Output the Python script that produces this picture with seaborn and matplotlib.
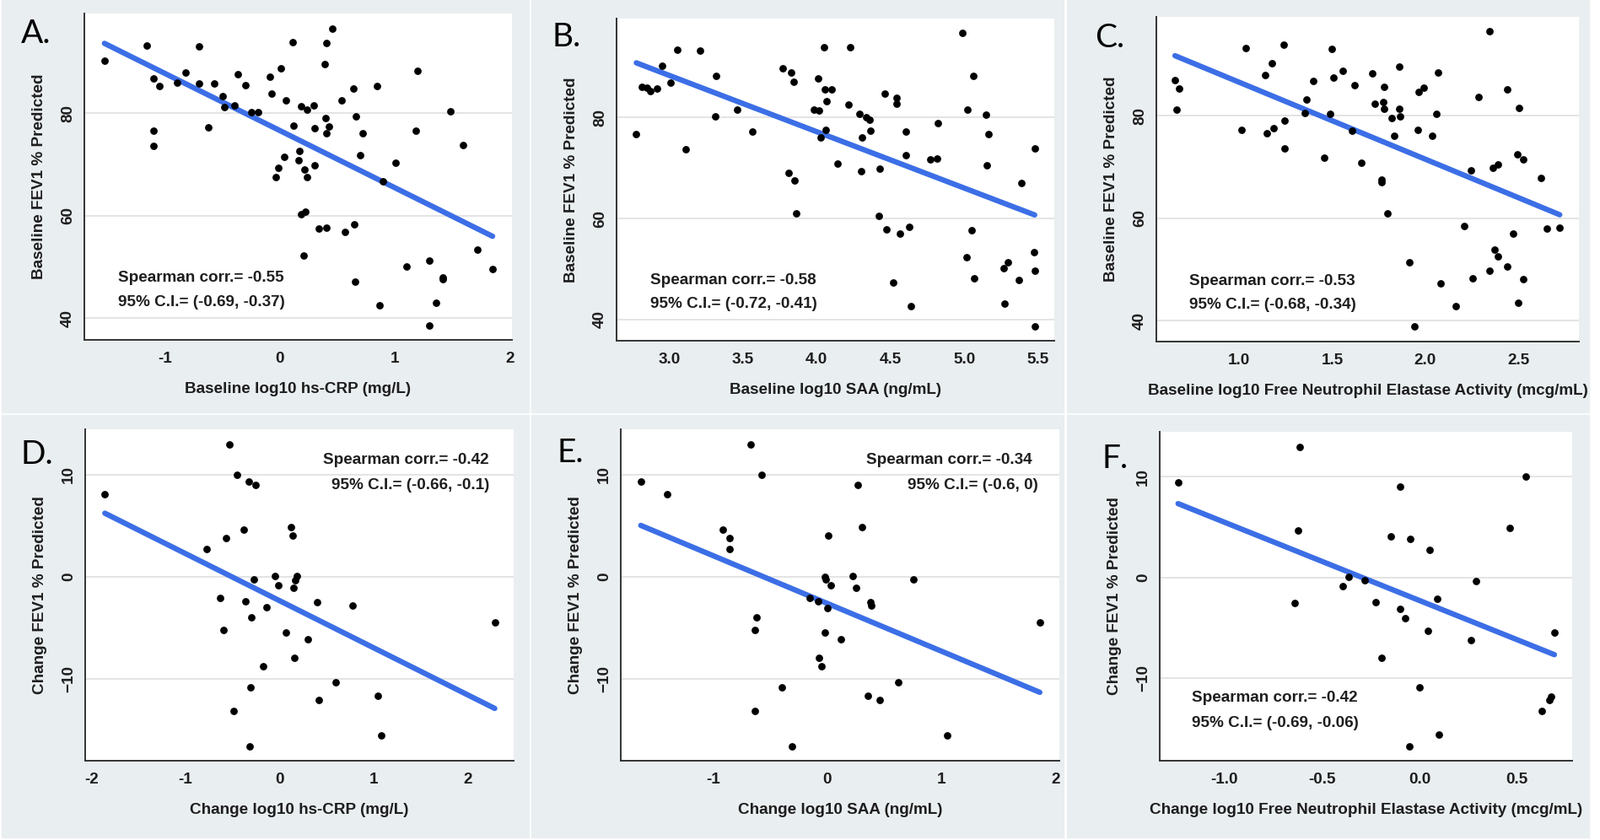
import matplotlib
matplotlib.use("Agg")
import matplotlib.pyplot as plt
import seaborn as sns
from matplotlib.patches import Rectangle
from matplotlib.ticker import FormatStrFormatter

# A: baseline hs-CRP vs baseline FEV1
a_x = [-1.525, -1.158, -0.702, -1.099, -1.048, -0.891, -0.823, -0.702, -0.572, -0.495,
       -0.483, -0.397, -0.367, -0.302, -0.249, -0.190, -0.619, -1.099, -1.099, -0.083,
       -0.071, 0.012, 0.110, 0.053, 0.184, 0.237, 0.293, 0.118, 0.302, 0.403,
       0.456, 0.394, 0.400, 0.403, 0.426, 0.536, 0.637, 0.663, 0.720, 0.847,
       1.196, 1.184, 1.481, 1.593, 0.172, 0.160, 0.038, -0.012, -0.036, 0.216,
       0.240, 0.302, 0.702, 1.004, 0.900, 0.187, 0.222, 0.341, 0.403, 0.569,
       0.649, 0.207, 0.652, 0.868, 1.105, 1.303, 1.415, 1.420, 1.362, 1.300,
       1.717, 1.851]
a_y = [90.3, 93.3, 93.1, 86.9, 85.4, 86.0, 88.0, 85.8, 85.8, 83.3,
       81.2, 81.5, 87.6, 85.5, 80.2, 80.3, 77.3, 76.6, 73.6, 87.1,
       83.9, 88.8, 93.9, 82.6, 81.4, 80.8, 81.6, 77.6, 77.1, 93.8,
       96.5, 89.7, 79.1, 76.1, 77.4, 82.6, 84.8, 79.5, 76.1, 85.4,
       88.3, 76.7, 80.4, 73.8, 72.6, 70.8, 71.6, 69.3, 67.5, 69.0,
       67.5, 69.8, 71.8, 70.4, 66.8, 60.4, 60.9, 57.6, 57.7, 56.9,
       58.4, 52.3, 47.2, 42.6, 50.2, 51.2, 48.0, 47.7, 43.0, 38.6,
       53.4, 49.7]

# B: baseline SAA vs baseline FEV1
b_x = [2.777, 2.813, 2.846, 2.873, 2.919, 2.952, 3.009, 3.053, 3.111, 3.207,
       3.313, 3.320, 3.461, 3.565, 3.772, 3.829, 3.843, 3.811, 3.850, 3.859,
       3.982, 4.014, 4.012, 4.048, 4.053, 4.101, 4.067, 4.060, 4.025, 4.140,
       4.226, 4.214, 4.288, 4.304, 4.334, 4.359, 4.364, 4.302, 4.426, 4.461,
       4.419, 4.470, 4.539, 4.539, 4.565, 4.606, 4.606, 4.627, 4.516, 4.641,
       4.770, 4.813, 4.823, 4.988, 5.060, 5.021, 5.147, 5.166, 5.154, 5.048,
       5.014, 5.067, 5.265, 5.297, 5.371, 5.274, 5.387, 5.477, 5.472, 5.477,
       5.477]
b_y = [76.7, 86.1, 85.9, 85.3, 85.8, 90.3, 86.9, 93.4, 73.7, 93.2,
       80.3, 88.2, 81.6, 77.3, 89.7, 88.9, 87.1, 69.1, 67.6, 61.0,
       81.6, 81.4, 87.7, 93.9, 85.5, 85.6, 83.3, 77.6, 76.1, 70.9,
       93.9, 82.6, 80.8, 76.1, 80.1, 79.6, 77.4, 69.4, 69.9, 84.8,
       60.5, 57.8, 83.9, 82.7, 57.0, 77.2, 72.6, 58.4, 47.3, 42.7,
       71.7, 71.9, 78.9, 96.7, 88.3, 81.6, 80.5, 76.7, 70.6, 57.6,
       52.3, 48.2, 50.2, 51.3, 47.8, 43.1, 67.0, 73.9, 53.4, 49.7,
       38.7]

# C: baseline free neutrophil elastase vs baseline FEV1
c_x = [0.656, 0.678, 0.663, 1.013, 1.037, 1.139, 1.174, 1.150, 1.187, 1.238,
       1.243, 1.245, 1.351, 1.362, 1.399, 1.455, 1.488, 1.496, 1.507, 1.556,
       1.604, 1.622, 1.655, 1.713, 1.728, 1.774, 1.777, 1.779, 1.765, 1.765,
       1.796, 1.819, 1.832, 1.860, 1.865, 1.862, 1.915, 1.942, 1.958, 1.966,
       1.991, 2.037, 2.057, 2.070, 2.083, 2.165, 2.207, 2.246, 2.253, 2.284,
       2.344, 2.344, 2.363, 2.390, 2.370, 2.390, 2.438, 2.438, 2.473, 2.494,
       2.527, 2.504, 2.496, 2.526, 2.621, 2.654, 2.721]
c_y = [87.0, 85.3, 81.2, 77.3, 93.2, 87.9, 90.2, 76.6, 77.5, 93.8,
       79.0, 73.6, 80.5, 83.1, 86.8, 71.8, 80.3, 93.0, 87.5, 88.7,
       77.0, 85.9, 70.8, 88.2, 82.4, 82.6, 85.6, 81.4, 67.5, 67.0,
       60.9, 79.5, 76.0, 81.3, 79.8, 89.6, 51.3, 38.8, 77.3, 84.6,
       85.5, 76.0, 80.4, 88.4, 47.3, 42.8, 58.5, 69.3, 48.2, 83.7,
       96.5, 49.7, 69.8, 70.5, 53.8, 52.6, 85.2, 50.5, 57.0, 72.5,
       71.5, 81.5, 43.4, 48.1, 67.9, 57.9, 58.1]

# D: change hs-CRP vs change FEV1
d_x = [-1.856, -0.531, -0.451, -0.329, -0.253, -0.383, -0.567, -0.776, 0.126, 0.144,
       -0.274, -0.051, -0.011, 0.184, 0.170, 0.152, -0.628, -0.361, -0.137, -0.296,
       0.404, 0.776, -0.592, 0.069, 0.300, 0.162, -0.170, -0.307, 0.599, 0.422,
       1.043, -0.487, 1.079, -0.318, 2.289]
d_y = [8.10, 12.98, 10.03, 9.34, 9.04, 4.66, 3.83, 2.73, 4.90, 4.08,
       -0.25, 0.08, -0.80, 0.03, -0.36, -1.10, -2.04, -2.42, -3.03, -3.97,
       -2.48, -2.84, -5.26, -5.43, -6.14, -7.99, -8.79, -10.85, -10.39, -12.12,
       -11.71, -13.14, -15.54, -16.67, -4.44]

# E: change SAA vs change FEV1
e_x = [-1.631, -1.402, -0.668, -0.576, -0.912, -0.852, -0.855, 0.012, 0.303, 0.264,
       -0.024, -0.012, 0.030, 0.226, 0.252, 0.757, -0.154, -0.080, 0.003, 0.374,
       0.386, -0.618, -0.633, -0.024, 0.119, -0.071, -0.048, -0.395, 0.621, 0.353,
       0.457, -0.636, 1.048, -0.306, 1.859]
e_y = [9.34, 8.10, 12.95, 10.00, 4.66, 3.83, 2.73, 4.05, 4.88, 9.04,
       0.00, -0.25, -0.83, 0.06, -1.10, -0.28, -2.09, -2.42, -3.06, -2.48,
       -2.84, -3.99, -5.26, -5.45, -6.17, -7.99, -8.79, -10.85, -10.39, -11.71,
       -12.12, -13.14, -15.54, -16.67, -4.46]

# F: change free neutrophil elastase vs change FEV1
f_x = [-1.236, -0.613, -0.621, -0.637, -0.391, -0.361, -0.281, -0.225, -0.195, -0.145,
       -0.101, -0.101, -0.073, -0.047, -0.051, 0.002, 0.045, 0.054, 0.089, 0.099,
       0.265, 0.290, 0.462, 0.543, 0.628, 0.665, 0.675, 0.691]
f_y = [9.39, 12.95, 4.65, -2.51, -0.84, 0.03, -0.28, -2.45, -7.99, 4.04,
       9.00, -3.09, -4.01, 3.82, -16.71, -10.92, -5.32, 2.73, -2.09, -15.60,
       -6.21, -0.33, 4.87, 10.00, -13.20, -12.17, -11.81, -5.49]

W, H = 1897, 996
BG = "#e9eef0"
BLUE = "#3c6ee6"
INK = "#1e1e1e"
FS = 13.6

sns.set_style("white")
plt.rcParams["font.family"] = ["Liberation Sans", "DejaVu Sans"]

fig = plt.figure(figsize=(W / 100, H / 100), dpi=100, facecolor="white")


def box(l, t, r, b):
    return [l / W, 1 - b / H, (r - l) / W, (b - t) / H]


# grey panel tiles, kept under the axes
for l, t, r, b in [(2, 0, 627, 489), (630, 0, 1261, 489), (1265, 0, 1884, 489),
                   (2, 492, 627, 993), (630, 492, 1261, 993), (1265, 492, 1884, 993)]:
    fig.patches.append(Rectangle((l / W, 1 - b / H), (r - l) / W, (b - t) / H,
                                 transform=fig.transFigure, color=BG, zorder=-5))

panels = [
    dict(x=a_x, y=a_y, pos=(100, 16, 607, 403), xlim=(-1.70, 2.02), ylim=(35.8, 99.5),
         xt=[-1, 0, 1, 2], yt=[40, 60, 80], fmt="%d",
         xl="Baseline log10 hs-CRP (mg/L)", yl="Baseline FEV1 % Predicted",
         txt=("Spearman corr.= -0.55", "95% C.I.= (-0.69, -0.37)"),
         tx=(0.079, 0.079), ty=(0.189, 0.116), ha="left", letter="A.", lp=(25, 51)),
    dict(x=b_x, y=b_y, pos=(731, 22, 1250, 404), xlim=(2.643, 5.61), ylim=(35.8, 99.6),
         xt=[3.0, 3.5, 4.0, 4.5, 5.0, 5.5], yt=[40, 60, 80], fmt="%.1f",
         xl="Baseline log10 SAA (ng/mL)", yl="Baseline FEV1 % Predicted",
         txt=("Spearman corr.= -0.58", "95% C.I.= (-0.72, -0.41)"),
         tx=(0.077, 0.077), ty=(0.186, 0.115), ha="left", letter="B.", lp=(654, 55)),
    dict(x=c_x, y=c_y, pos=(1371, 20, 1872, 405), xlim=(0.556, 2.824), ylim=(35.9, 99.3),
         xt=[1.0, 1.5, 2.0, 2.5], yt=[40, 60, 80], fmt="%.1f",
         xl="Baseline log10 Free Neutrophil Elastase Activity (mcg/mL)",
         yl="Baseline FEV1 % Predicted",
         txt=("Spearman corr.= -0.53", "95% C.I.= (-0.68, -0.34)"),
         tx=(0.078, 0.078), ty=(0.187, 0.114), ha="left", letter="C.", lp=(1298, 56)),
    dict(x=d_x, y=d_y, pos=(101, 509, 609, 902), xlim=(-2.065, 2.49), ylim=(-18.04, 14.46),
         xt=[-2, -1, 0, 1, 2], yt=[-10, 0, 10], fmt="%d",
         xl="Change log10 hs-CRP (mg/L)", yl="Change FEV1 % Predicted",
         txt=("Spearman corr.= -0.42", "95% C.I.= (-0.66, -0.1)"),
         tx=(0.943, 0.943), ty=(0.906, 0.832), ha="right", letter="D.", lp=(24, 550)),
    dict(x=e_x, y=e_y, pos=(736, 509, 1256, 902), xlim=(-1.806, 2.03), ylim=(-18.04, 14.46),
         xt=[-1, 0, 1, 2], yt=[-10, 0, 10], fmt="%d",
         xl="Change log10 SAA (ng/mL)", yl="Change FEV1 % Predicted",
         txt=("Spearman corr.= -0.34", "95% C.I.= (-0.6, 0)"),
         tx=(0.938, 0.952), ty=(0.906, 0.832), ha="right", letter="E.", lp=(660, 548)),
    dict(x=f_x, y=f_y, pos=(1375, 512, 1864, 902), xlim=(-1.33, 0.782), ylim=(-18.16, 14.43),
         xt=[-1.0, -0.5, 0.0, 0.5], yt=[-10, 0, 10], fmt="%.1f",
         xl="Change log10 Free Neutrophil Elastase Activity (mcg/mL)",
         yl="Change FEV1 % Predicted",
         txt=("Spearman corr.= -0.42", "95% C.I.= (-0.69, -0.06)"),
         tx=(0.078, 0.078), ty=(0.19, 0.115), ha="left", letter="F.", lp=(1306, 555)),
]

for p in panels:
    ax = fig.add_axes(box(*p["pos"]))
    ax.set_facecolor("white")
    sns.regplot(x=p["x"], y=p["y"], ax=ax, ci=None, color=BLUE,
                scatter_kws=dict(s=40, color="black", alpha=1, linewidths=0, zorder=3),
                line_kws=dict(color=BLUE, lw=4.6, zorder=2))
    ax.set_xlim(*p["xlim"])
    ax.set_ylim(*p["ylim"])
    ax.set_xticks(p["xt"])
    ax.set_yticks(p["yt"])
    ax.xaxis.set_major_formatter(FormatStrFormatter(p["fmt"]))
    ax.yaxis.grid(True, color="#e2e2e2", lw=1.3, zorder=0)
    ax.xaxis.grid(False)
    ax.set_axisbelow(True)
    for s in ["top", "right"]:
        ax.spines[s].set_visible(False)
    for s in ["left", "bottom"]:
        ax.spines[s].set_color("#333333")
        ax.spines[s].set_linewidth(1.4)
    ax.tick_params(length=0, labelsize=FS, labelcolor=INK)
    ax.tick_params(axis="x", pad=10)
    ax.tick_params(axis="y", pad=8)
    for lab in ax.get_xticklabels() + ax.get_yticklabels():
        lab.set_fontweight("bold")
    for lab in ax.get_yticklabels():
        lab.set_rotation(90)
        lab.set_va("center")
    ax.set_xlabel(p["xl"], fontsize=FS, fontweight="bold", color=INK, labelpad=14)
    ax.set_ylabel(p["yl"], fontsize=FS, fontweight="bold", color=INK, labelpad=12)
    for t, x, y in zip(p["txt"], p["tx"], p["ty"]):
        ax.text(x, y, t, transform=ax.transAxes, ha=p["ha"], va="center",
                fontsize=FS, fontweight="bold", color=INK)
    lx, ly = p["lp"]
    fig.text(lx / W, 1 - ly / H, p["letter"], fontsize=28, color="black",
             family=["Lato", "DejaVu Sans"], va="baseline", ha="left")

fig.savefig("out.png", dpi=100, facecolor="white")
